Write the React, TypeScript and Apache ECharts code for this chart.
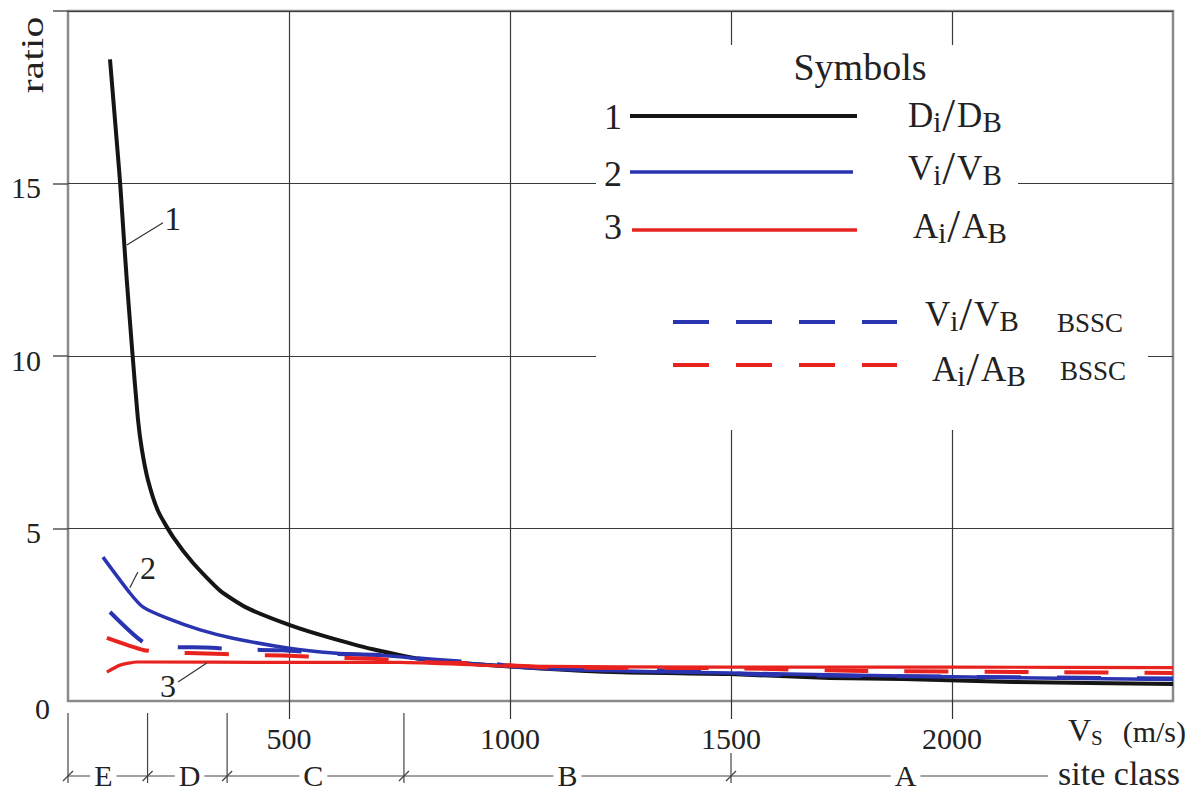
import React, { useEffect, useRef } from "react";
import * as echarts from "echarts";

// ---------- data (Vs in m/s, ratio) ----------
const xTickValues = [500, 1000, 1500, 2000];
const yTickValues = [5, 10, 15, 20];

const dRatio: [number, number][] = [
  [95, 18.6], [113, 15.8], [118, 15.0], [127, 13.3], [133, 12.2], [145, 10.2], [158, 8.2],
  [167, 7.3], [181, 6.4], [204, 5.5], [238, 4.75], [283, 4.0], [344, 3.2], [405, 2.7],
  [502, 2.2], [586, 1.86], [690, 1.5], [812, 1.19], [1000, 1.0], [1233, 0.84], [1497, 0.78],
  [1724, 0.67], [1889, 0.64], [2138, 0.55], [2500, 0.49],
];
const vRatio: [number, number][] = [
  [79, 4.17], [140, 3.13], [170, 2.72], [224, 2.4], [299, 2.06], [373, 1.82], [500, 1.53],
  [600, 1.39], [690, 1.33], [751, 1.28], [850, 1.15], [1000, 1.0], [1158, 0.9], [1497, 0.81],
  [2000, 0.7], [2500, 0.62],
];
const aRatio: [number, number][] = [
  [88, 0.84], [118, 1.04], [156, 1.13], [500, 1.12], [751, 1.12], [1000, 1.01], [1500, 0.98],
  [2000, 0.98], [2500, 0.97],
];
const vRatioBssc: [number, number][] = [
  [95, 2.58], [170, 1.71], [231, 1.57], [312, 1.55], [394, 1.49], [486, 1.47], [593, 1.37],
  [699, 1.34], [826, 1.2], [940, 1.1], [1047, 0.97], [1129, 0.95], [1294, 0.9], [1384, 0.88],
  [1588, 0.76], [1860, 0.72], [2500, 0.65],
];
const aRatioBssc: [number, number][] = [
  [88, 1.83], [170, 1.48], [231, 1.4], [312, 1.38], [394, 1.34], [486, 1.32], [593, 1.26],
  [699, 1.22], [819, 1.12], [939, 1.08], [1100, 0.97], [1500, 0.95], [1800, 0.87],
  [2200, 0.84], [2500, 0.81],
];

// site class boundaries (m/s) and label positions
const siteBoundaries = [0, 180, 360, 760, 1500];
const siteClasses = ["E", "D", "C", "B", "A"];
const siteLabelAt = [80, 275, 555, 1130, 1895];

// curve number annotations: label position, leader start (on curve), leader end
const curveNotes = [
  { text: "1", at: [237, 14.0], from: [133, 13.22], to: [215, 13.86] },
  { text: "2", at: [181, 3.86], from: [140, 3.28], to: [158, 3.74] },
  { text: "3", at: [226, 0.43], from: [314, 1.1], to: [249, 0.55] },
];

const FONT = "'Liberation Serif', 'Times New Roman', Times, serif";
const BLACK = "#151515";
const BLUE = "#2b34b0";
const RED = "#e8231f";
const INK = "#222";

function txt(text: string, x: number, y: number, size: number, align = "center", extra: any = {}) {
  return {
    type: "text",
    x,
    y,
    z: 20,
    ...extra,
    style: {
      text,
      fontSize: size,
      fontFamily: FONT,
      fill: INK,
      align,
      textAlign: align,
      verticalAlign: "middle",
      textVerticalAlign: "middle",
    },
  };
}

function ln(x1: number, y1: number, x2: number, y2: number, stroke = "#333", lineWidth = 1, dash?: number[]) {
  return {
    type: "line",
    z: 20,
    shape: { x1, y1, x2, y2 },
    style: { stroke, lineWidth, lineDash: dash },
  };
}

const fracRich = {
  m: { fontSize: 35, lineHeight: 42, fontFamily: FONT, color: INK },
  s: { fontSize: 29, lineHeight: 29, padding: [14, 0, 0, 0], fontFamily: FONT, color: INK },
  sl: { fontSize: 46, lineHeight: 42, padding: [0, 2, 0, 1], fontFamily: FONT, color: INK },
};

function frac(letter: string, x: number, y: number) {
  return {
    type: "text",
    x,
    y,
    z: 20,
    style: {
      text: `{m|${letter}}{s|i}{sl|/}{m|${letter}}{s|B}`,
      rich: fracRich,
      fontFamily: FONT,
      fill: INK,
      align: "left",
      textAlign: "left",
      verticalAlign: "middle",
      textVerticalAlign: "middle",
    },
  };
}

export default function App() {
  const ref = useRef<HTMLDivElement>(null);

  useEffect(() => {
    document.body.style.margin = "0";
    const chart = echarts.init(ref.current!, null, { renderer: "svg" });

    const mkSeries = (name: string, data: [number, number][], color: string, width: number, type: any) => ({
      name,
      type: "line",
      data,
      showSymbol: false,
      smooth: 0.2,
      lineStyle: { color, width, type, join: "round", cap: "butt" },
      z: 3,
    });

    chart.setOption({
      animation: false,
      backgroundColor: "#fff",
      grid: {
        left: 68,
        top: 11,
        right: 21,
        bottom: 91,
        show: true,
        borderColor: "#8a8a8a",
        borderWidth: 2.5,
        backgroundColor: "transparent",
      },
      xAxis: {
        type: "value",
        min: 0,
        max: 2500,
        interval: 500,
        axisLine: { show: false },
        axisTick: {
          show: true,
          customValues: xTickValues,
          length: 18,
          lineStyle: { color: "#333", width: 1.2 },
        },
        axisLabel: {
          customValues: xTickValues,
          formatter: (v: number) => (v === 0 || v === 2500 ? "" : String(v)),
          fontSize: 30,
          fontFamily: FONT,
          color: INK,
          margin: 22,
        },
        splitLine: { show: true, lineStyle: { color: "#3a3a3a", width: 1.2 } },
      },
      yAxis: {
        type: "value",
        min: 0,
        max: 20,
        interval: 5,
        axisLine: { show: false },
        axisTick: {
          show: true,
          customValues: yTickValues,
          length: 15,
          lineStyle: { color: "#555", width: 1.5 },
        },
        axisLabel: {
          formatter: (v: number) => (v === 20 ? "" : v === 0 ? "{z|0}" : `{n|${v}}`),
          margin: 18,
          fontSize: 30,
          fontFamily: FONT,
          color: INK,
          rich: {
            z: { fontSize: 30, fontFamily: FONT, color: INK, padding: [14, 0, 0, 0] },
            n: { fontSize: 30, fontFamily: FONT, color: INK, padding: [8, 9, 0, 0] },
          },
        },
        splitLine: { show: true, lineStyle: { color: "#3a3a3a", width: 1.2 } },
      },
      series: [
        mkSeries("D", dRatio, BLACK, 4, "solid"),
        mkSeries("V", vRatio, BLUE, 3.5, "solid"),
        mkSeries("V BSSC", vRatioBssc, BLUE, 4, [44, 36]),
        mkSeries("A BSSC", aRatioBssc, RED, 4, [44, 36]),
        mkSeries("A", aRatio, RED, 3.2, "solid"),
      ],
    });

    const p = (x: number, y: number) => chart.convertToPixel({ gridIndex: 0 }, [x, y]) as number[];
    const g: any[] = [];

    // legend mask
    g.push({ type: "rect", z: 15, shape: { x: 596, y: 45, width: 422, height: 385 }, style: { fill: "#fff" } });
    g.push({ type: "rect", z: 15, shape: { x: 1018, y: 290, width: 130, height: 110 }, style: { fill: "#fff" } });

    // legend content
    g.push(txt("Symbols", 860, 67, 38));
    g.push(txt("1", 613, 117, 36));
    g.push(txt("2", 613, 174, 36));
    g.push(txt("3", 613, 227, 36));
    g.push(ln(630, 116, 857, 116, BLACK, 4));
    g.push(ln(630, 172, 853, 172, BLUE, 3.5));
    g.push(ln(632, 230, 857, 230, RED, 3.5));
    g.push(frac("D", 908, 115));
    g.push(frac("V", 908, 168));
    g.push(frac("A", 913, 226));
    g.push(ln(673, 322, 897, 322, BLUE, 4, [36, 27]));
    g.push(ln(673, 365, 897, 365, RED, 4, [36, 27]));
    g.push(frac("V", 925, 314));
    g.push(frac("A", 932, 369));
    g.push(txt("BSSC", 1057, 323, 27, "left"));
    g.push(txt("BSSC", 1060, 371, 27, "left"));

    // curve annotations
    curveNotes.forEach((n) => {
      const a = p(n.at[0], n.at[1]);
      const f = p(n.from[0], n.from[1]);
      const t = p(n.to[0], n.to[1]);
      g.push(ln(f[0], f[1], t[0], t[1], "#333", 1.2));
      g.push(txt(n.text, a[0], a[1], n.text === "1" ? 34 : 32));
    });

    // axis titles
    g.push(txt("ratio", 32, 55, 31, "center", { rotation: Math.PI / 2, scaleX: 1.35 }));
    g.push({
      type: "text",
      x: 1068,
      y: 730,
      z: 20,
      style: {
        text: "{v|V}{s|S}",
        rich: {
          v: { fontSize: 32, lineHeight: 36, fontFamily: FONT, color: INK },
          s: { fontSize: 21, lineHeight: 21, padding: [16, 0, 0, 0], fontFamily: FONT, color: INK },
        },
        fill: INK,
        align: "left",
        textAlign: "left",
        verticalAlign: "middle",
        textVerticalAlign: "middle",
      },
    });
    g.push(txt("(m/s)", 1186, 731, 30, "right"));
    g.push(txt("site class", 1119, 773, 34, "center"));

    // site class scale
    const yLine = 776;
    const bpx = siteBoundaries.map((b) => p(b, 0)[0]);
    g.push(ln(bpx[0], yLine, 1048, yLine, "#444", 1.2));
    bpx.forEach((x, i) => {
      const top = siteBoundaries[i] === 1500 ? 753 : 713;
      g.push(ln(x, top, x, 783, "#444", 1.2));
      g.push(ln(x - 5, yLine + 5, x + 5, yLine - 5, "#444", 1.2));
    });
    siteClasses.forEach((c, i) => {
      const x = p(siteLabelAt[i], 0)[0];
      g.push({
        type: "text",
        x,
        y: yLine - 1,
        z: 21,
        style: {
          text: c,
          fontSize: 30,
          fontFamily: FONT,
          fill: INK,
          align: "center",
          textAlign: "center",
          verticalAlign: "middle",
          textVerticalAlign: "middle",
          backgroundColor: "#fff",
          padding: [0, 4, 0, 4],
        },
      });
    });

    chart.setOption({ graphic: { elements: g } });

    return () => chart.dispose();
  }, []);

  return <div ref={ref} style={{ width: 1194, height: 792 }} />;
}
